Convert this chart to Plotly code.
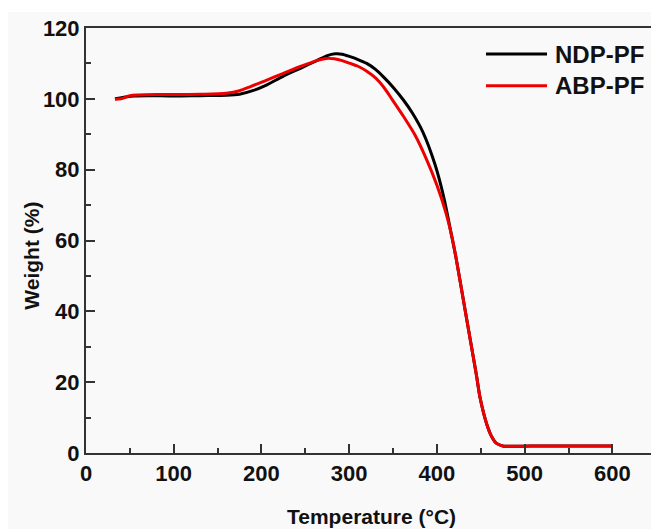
import plotly.graph_objects as go

# ---- data ----
ndp_temp = [33, 45, 55, 70, 100, 130, 160, 175, 190, 205, 225, 245, 263, 275, 284, 292, 301,
            310, 320, 330, 339, 350, 362, 372, 384, 398, 408, 415, 422, 430, 438, 445, 449,
            453, 457, 462, 468, 475, 490, 520, 560, 600]
ndp_weight = [100.0, 100.5, 100.8, 100.9, 100.8, 100.9, 101.0, 101.3, 102.3, 103.8, 106.4, 108.7,
              110.8, 112.2, 112.7, 112.6, 111.9, 111.1, 110.0, 108.3, 106.2, 103.3, 99.6, 96.0,
              90.6, 81.3, 72.0, 63.5, 54.8, 43.4, 32.0, 22.0, 15.8, 11.5, 8.0, 4.8, 2.7, 2.0,
              1.9, 2.0, 2.0, 2.0]

abp_temp = [33, 40, 50, 60, 80, 100, 130, 160, 175, 187, 206, 225, 245, 263, 274, 283, 292,
            301, 310, 320, 330, 339, 349, 362, 375, 388, 400, 410, 418, 422, 430, 438, 445, 449,
            453, 457, 462, 468, 475, 490, 520, 560, 600]
abp_weight = [99.9, 100.0, 100.9, 101.1, 101.2, 101.2, 101.3, 101.6, 102.3, 103.4, 105.3, 107.2,
              109.2, 110.8, 111.4, 111.3, 110.8, 110.0, 109.2, 107.8, 105.9, 103.4, 99.8, 95.0,
              89.8, 83.0, 75.6, 68.0, 60.0, 54.8, 43.4, 32.0, 22.0, 15.8, 11.5, 8.0, 4.8, 2.7,
              2.0, 1.9, 2.0, 2.0, 2.0]

series_names = ["NDP-PF", "ABP-PF"]
series_colors = ["#000000", "#ee0000"]

x_ticks = [0, 100, 200, 300, 400, 500, 600]
y_ticks = [0, 20, 40, 60, 80, 100, 120]

FONT = "Liberation Sans, Arial, sans-serif"

fig = go.Figure()
for xs, ys, name, col in [(ndp_temp, ndp_weight, series_names[0], series_colors[0]),
                          (abp_temp, abp_weight, series_names[1], series_colors[1])]:
    fig.add_trace(go.Scatter(x=xs, y=ys, mode="lines", name=name,
                             line=dict(color=col, width=3, shape="spline", smoothing=0.8),
                             showlegend=False))

axis_common = dict(
    showgrid=False, zeroline=False, showline=True, linecolor="#333333", linewidth=2,
    ticks="inside", ticklen=9, tickwidth=2, tickcolor="#333333",
    tickfont=dict(family=FONT, size=22, color="#111111", weight="bold"),
)

fig.update_xaxes(range=[0, 644], tickvals=x_ticks, mirror=True,
                 minor=dict(dtick=50, tick0=0, ticks="inside", ticklen=5, tickwidth=2, tickcolor="#333333"),
                 **axis_common)
fig.update_yaxes(range=[0, 120], tickvals=y_ticks,
                 minor=dict(dtick=10, tick0=0, ticks="inside", ticklen=5, tickwidth=2, tickcolor="#333333"),
                 **axis_common)

W = 565.0
H = 424.7
def px_x(p):
    return (p - 86) / W
def px_y(p):
    return (452.7 - p) / H

# white border strips of the original scan (top and left)
fig.add_shape(type="rect", xref="paper", yref="paper", layer="below",
              x0=px_x(0), x1=px_x(651), y0=px_y(12), y1=px_y(0),
              line=dict(width=0), fillcolor="#ffffff")
fig.add_shape(type="rect", xref="paper", yref="paper", layer="below",
              x0=px_x(0), x1=px_x(8), y0=px_y(529), y1=px_y(0),
              line=dict(width=0), fillcolor="#ffffff")

# legend (manual, long line samples)
for i, (name, col) in enumerate(zip(series_names, series_colors)):
    yy = px_y(54 + i * 31.7)
    fig.add_shape(type="line", xref="paper", yref="paper",
                  x0=px_x(486), x1=px_x(547), y0=yy, y1=yy,
                  line=dict(color=col, width=3))
    fig.add_annotation(xref="paper", yref="paper", x=px_x(553), y=yy,
                       xanchor="left", yanchor="middle", showarrow=False,
                       text=name, font=dict(family=FONT, size=24, color="#111111", weight="bold"))

# axis titles
fig.add_annotation(xref="paper", yref="paper", x=px_x(371), y=px_y(516),
                   xanchor="center", yanchor="middle", showarrow=False,
                   text="Temperature (°C)",
                   font=dict(family=FONT, size=21, color="#111111", weight="bold"))
fig.add_annotation(xref="paper", yref="paper", x=px_x(32), y=px_y(255.5),
                   xanchor="center", yanchor="middle", showarrow=False, textangle=-90,
                   text="Weight (%)",
                   font=dict(family=FONT, size=21, color="#111111", weight="bold"))

fig.update_layout(
    width=651, height=529,
    margin=dict(l=86, r=0, t=28, b=76),
    paper_bgcolor="#f9f9f9", plot_bgcolor="#f9f9f9",
    showlegend=False,
)

fig.write_html("out.html")
